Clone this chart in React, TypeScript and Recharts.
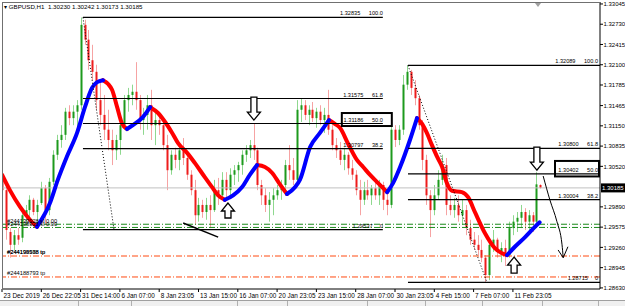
import React from "react";
import {
  ComposedChart,
  Bar,
  Line,
  XAxis,
  YAxis,
  ReferenceLine,
  ReferenceDot,
} from "recharts";

const FONT = "'Liberation Sans', Arial, sans-serif";

// one candle slot per ~4px, slot 0 = 23 Dec 2019
const opens = [
  1.3034, 1.3015, 1.295, 1.293, 1.2945, 1.2941, 1.2976, 1.2984, 1.3, 1.2981,
  1.2995, 1.3018, 1.2984, 1.3028, 1.307, 1.3093, 1.3101, 1.3137, 1.3127, 1.3137,
  1.3147, 1.3272, 1.3249, 1.3217, 1.3199, 1.3155, 1.3132, 1.3109, 1.3093, 1.3077,
  1.3093, 1.3116, 1.3155, 1.3163, 1.3168, 1.3155, 1.3124, 1.3132, 1.3147, 1.3116,
  1.3124, 1.3116, 1.3085, 1.3046, 1.307, 1.3062, 1.3077, 1.3065, 1.3039, 1.3015,
  1.2976, 1.2992, 1.2981, 1.2992, 1.2984, 1.3015, 1.3007, 1.3031, 1.3015, 1.3039,
  1.3046, 1.3054, 1.307, 1.3077, 1.3085, 1.3077, 1.3023, 1.3007, 1.2992, 1.3,
  1.3007, 1.3015, 1.3023, 1.3054, 1.3046, 1.3031, 1.314, 1.3147, 1.3132, 1.314,
  1.3127, 1.3137, 1.3124, 1.3132, 1.3109, 1.3085, 1.3077, 1.3062, 1.307, 1.3049,
  1.3039, 1.3015, 1.3, 1.3015, 1.3007, 1.3018, 1.3007, 1.3023, 1.3, 1.2992,
  1.3109, 1.3093, 1.3109, 1.3179, 1.3199, 1.3174, 1.3158, 1.3116, 1.3062, 1.3007,
  1.2984, 1.3007, 1.3031, 1.3054, 1.2992, 1.2984, 1.2992, 1.2976, 1.2984, 1.2956,
  1.2938, 1.293, 1.2922, 1.291, 1.2883, 1.293, 1.2938, 1.2919, 1.2925, 1.2914,
  1.2956, 1.2966, 1.2972, 1.2981, 1.2966, 1.2976, 1.2966, 1.3023,
];
const highs = [
  1.304, 1.3023, 1.2956, 1.2953, 1.2956, 1.2984, 1.2992, 1.3007, 1.3003, 1.3,
  1.3028, 1.3023, 1.3034, 1.3077, 1.3101, 1.3116, 1.3143, 1.3147, 1.3147, 1.3155,
  1.32835, 1.328, 1.3264, 1.3241, 1.321, 1.3186, 1.3163, 1.314, 1.3109, 1.3101,
  1.3124, 1.3163, 1.3174, 1.3179, 1.3214, 1.3163, 1.3143, 1.3163, 1.3171, 1.314,
  1.3132, 1.3124, 1.3101, 1.3077, 1.3081, 1.3085, 1.3096, 1.307, 1.3046, 1.3031,
  1.3003, 1.3, 1.3003, 1.3007, 1.3031, 1.3034, 1.3043, 1.3043, 1.3049, 1.3054,
  1.3059, 1.3077, 1.3085, 1.3093, 1.3119, 1.3081, 1.3031, 1.3018, 1.3012, 1.3018,
  1.3023, 1.3031, 1.3062, 1.3085, 1.3065, 1.3155, 1.3158, 1.3155, 1.3147, 1.3152,
  1.3143, 1.3147, 1.3143, 1.3171, 1.3116, 1.3096, 1.309, 1.3081, 1.3074, 1.3062,
  1.3046, 1.3031, 1.3028, 1.3031, 1.3023, 1.3028, 1.3031, 1.3028, 1.3015, 1.3116,
  1.3116, 1.3116, 1.3194, 1.32089, 1.3202, 1.3186, 1.3163, 1.3124, 1.307, 1.3015,
  1.3023, 1.3046, 1.307, 1.3065, 1.3007, 1.3003, 1.3007, 1.3, 1.2992, 1.2969,
  1.295, 1.2945, 1.2938, 1.2914, 1.2938, 1.2953, 1.2941, 1.2934, 1.2938, 1.2966,
  1.2976, 1.2981, 1.2992, 1.2987, 1.2984, 1.2981, 1.3043, 1.30242,
];
const lows = [
  1.3007, 1.2938, 1.291, 1.2922, 1.293, 1.2934, 1.2961, 1.2972, 1.2976, 1.2961,
  1.2992, 1.2961, 1.2976, 1.3023, 1.3062, 1.3081, 1.3093, 1.3116, 1.3116, 1.3112,
  1.314, 1.3241, 1.3202, 1.3186, 1.314, 1.3116, 1.3093, 1.3077, 1.3054, 1.3062,
  1.307, 1.3109, 1.3137, 1.3147, 1.314, 1.3109, 1.3101, 1.3109, 1.3093, 1.3085,
  1.3101, 1.3077, 1.3015, 1.3039, 1.3049, 1.3046, 1.3054, 1.3031, 1.3007, 1.2961,
  1.2966, 1.2972, 1.2969, 1.2956, 1.2981, 1.2992, 1.3, 1.3003, 1.3007, 1.3023,
  1.3028, 1.3039, 1.3059, 1.3065, 1.3062, 1.3015, 1.2992, 1.2981, 1.2966, 1.2976,
  1.3, 1.3, 1.3007, 1.3031, 1.3023, 1.3023, 1.3121, 1.3124, 1.3116, 1.3121,
  1.3112, 1.3116, 1.3104, 1.3101, 1.3077, 1.3065, 1.3054, 1.3046, 1.3039, 1.3031,
  1.3007, 1.2976, 1.2992, 1.3, 1.2992, 1.3, 1.2992, 1.2984, 1.2976, 1.2987,
  1.3082, 1.3085, 1.3101, 1.3171, 1.3163, 1.3147, 1.3109, 1.3046, 1.2992, 1.2942,
  1.2976, 1.3, 1.3023, 1.2976, 1.2976, 1.2972, 1.2966, 1.2961, 1.2945, 1.293,
  1.2922, 1.2914, 1.2903, 1.28715, 1.2875, 1.2919, 1.291, 1.2903, 1.2897, 1.291,
  1.2945, 1.295, 1.2956, 1.2953, 1.295, 1.295, 1.2961, 1.30173,
];
const closes = [
  1.3015, 1.2953, 1.293, 1.2945, 1.2938, 1.2976, 1.2984, 1.3, 1.2981, 1.2992,
  1.3018, 1.2984, 1.3028, 1.307, 1.3093, 1.3101, 1.3137, 1.3127, 1.3137, 1.3147,
  1.3272, 1.3249, 1.3217, 1.3199, 1.3155, 1.3132, 1.3109, 1.3093, 1.3077, 1.3093,
  1.3116, 1.3155, 1.3163, 1.3168, 1.3155, 1.3124, 1.3132, 1.3147, 1.3116, 1.3124,
  1.3116, 1.3085, 1.3046, 1.307, 1.3062, 1.3077, 1.3065, 1.3039, 1.3015, 1.2976,
  1.2992, 1.2981, 1.2992, 1.2984, 1.3015, 1.3007, 1.3031, 1.3015, 1.3039, 1.3046,
  1.3054, 1.307, 1.3077, 1.3085, 1.3077, 1.3023, 1.3007, 1.2992, 1.3, 1.3007,
  1.3015, 1.3023, 1.3054, 1.3046, 1.3031, 1.314, 1.3147, 1.3132, 1.314, 1.3127,
  1.3137, 1.3124, 1.3132, 1.3109, 1.3085, 1.3077, 1.3062, 1.307, 1.3049, 1.3039,
  1.3015, 1.3, 1.3015, 1.3007, 1.3018, 1.3007, 1.3023, 1.3, 1.2992, 1.3109,
  1.3093, 1.3109, 1.3179, 1.3199, 1.3174, 1.3158, 1.3116, 1.3062, 1.3007, 1.2984,
  1.3007, 1.3031, 1.3054, 1.2992, 1.2984, 1.2992, 1.2976, 1.2984, 1.2956, 1.2938,
  1.293, 1.2922, 1.291, 1.2883, 1.293, 1.2938, 1.2919, 1.2925, 1.2914, 1.2956,
  1.2966, 1.2972, 1.2981, 1.2966, 1.2976, 1.2966, 1.3024, 1.30185,
];

const tickSlots = [0, 10, 20, 30, 40, 50, 60, 70, 80, 90, 100, 110, 120, 130];
const tickLabels = [
  "23 Dec 2019", "26 Dec 22:05", "31 Dec 14:00", "6 Jan 07:00", "8 Jan 23:05",
  "13 Jan 15:00", "16 Jan 07:00", "20 Jan 23:05", "23 Jan 15:00", "28 Jan 07:00",
  "30 Jan 23:05", "4 Feb 15:00", "7 Feb 07:00", "11 Feb 23:05",
];
const priceTicks = [
  1.33045, 1.3273, 1.32415, 1.321, 1.31785, 1.31465, 1.3115, 1.30835, 1.3052,
  1.2989, 1.29575, 1.2926, 1.28945, 1.2863,
];
const lastPrice = 1.30185;
const X_MAX = 152.16;

// moving average, red while falling / blue while rising
const maSlots = [
  0, 2, 4.6, 7.1, 8.9, 12.2, 14.2, 16.5, 19.1, 21.1, 22.9, 24.2, 25.7, 27, 28,
  29.3, 30.5, 31.8, 33.3, 35.9, 37.7, 39.7, 41.5, 43.3, 44.8, 47.1, 49.1, 51.4,
  53.4, 55, 56.7, 58.8, 61.1, 63.1, 64.9, 66.9, 68.7, 70.5, 72.5, 74.6, 75.8,
  78.4, 80.9, 83.2, 84.7, 86, 88, 90.3, 91.9, 93.6, 95.7, 98, 99.5, 101.3, 103.8,
  105.6, 106.9, 108.1, 109.4, 110.7, 112, 113.2, 114.5, 117, 118.6, 120.4, 122.9,
  125.4, 127.2, 128.5, 130.5, 133.1, 135.6, 136.8,
];
const maValues = [
  1.3039, 1.3015, 1.2989, 1.2969, 1.2958, 1.2995, 1.3031, 1.3067, 1.3104, 1.3144,
  1.3174, 1.3183, 1.3186, 1.318, 1.3171, 1.3144, 1.3119, 1.311, 1.3116, 1.3129,
  1.3144, 1.3135, 1.3121, 1.3104, 1.3088, 1.3073, 1.3057, 1.3037, 1.302, 1.3007,
  1.3, 1.3007, 1.302, 1.3039, 1.3054, 1.3051, 1.3042, 1.3026, 1.3009, 1.302,
  1.3031, 1.3082, 1.3104, 1.3124, 1.3118, 1.3112, 1.3088, 1.3062, 1.3051, 1.3039,
  1.3026, 1.3012, 1.3026, 1.3051, 1.3093, 1.3127, 1.3118, 1.3104, 1.3085, 1.3067,
  1.3051, 1.3026, 1.3014, 1.3012, 1.3004, 1.298, 1.2948, 1.2925, 1.2917, 1.2914,
  1.2927, 1.2942, 1.2958, 1.2965,
];

// fibonacci retracements
const fibALevels = [1.32835, 1.31575, 1.31186, 1.30797, 1.29537];
const fibBLevels = [1.32089, 1.308, 1.30402, 1.30004, 1.28715];
const fibNames = ["100.0", "61.8", "50.0", "38.2", "0"];

// order lines
const slLevels = [1.2962, 1.2957];
const slIds = ["#244139928", "#244138928"];
const tpLevels = [1.29126, 1.288];
const tpIds = ["#244199938", "#244188793"];

// hand drawn forecast arrow
const forecastSlots = [137.7, 139.4, 141.2, 142.5, 142.8];
const forecastPrices = [1.3037, 1.3, 1.2966, 1.293, 1.291];

const candles = opens.map((o, i) => ({
  x: i,
  open: o,
  high: highs[i],
  low: lows[i],
  close: closes[i],
}));

const maRising = maValues.map((v, k) =>
  k < maValues.length - 1 ? maValues[k + 1] >= v : maValues[k] >= maValues[k - 1]
);
const maUp = maSlots.map((x, k) => ({
  x,
  v: maRising[k] || (k > 0 && maRising[k - 1]) ? maValues[k] : null,
}));
const maDown = maSlots.map((x, k) => ({
  x,
  v: !maRising[k] || (k > 0 && !maRising[k - 1]) ? maValues[k] : null,
}));
const forecast = forecastSlots.map((x, k) => ({ x, v: forecastPrices[k] }));

function Candle(props: any) {
  const { x, y, width, height, payload } = props;
  if (x == null || y == null) return null;
  const top = Math.min(y, y + height);
  const h = Math.abs(height);
  const k = payload.high === payload.low ? 0 : h / (payload.high - payload.low);
  const yO = top + (payload.high - payload.open) * k;
  const yC = top + (payload.high - payload.close) * k;
  const up = payload.close >= payload.open;
  const cx = Math.round(x + width / 2) + 0.5;
  return (
    <g>
      <line x1={cx} x2={cx} y1={top} y2={top + h} stroke={up ? "#8fd88f" : "#f6a3a3"} strokeWidth={1} />
      <rect
        x={cx - 1}
        y={Math.min(yO, yC)}
        width={2}
        height={Math.max(1, Math.abs(yC - yO))}
        fill={up ? "#1d9a1d" : "#ee1c1c"}
      />
    </g>
  );
}

function XTick({ x, y, payload }: any) {
  const label = tickLabels[tickSlots.indexOf(payload.value)] ?? "";
  return (
    <text x={x + 1.5} y={y + 4} fontSize={6.4} fontFamily={FONT} fill="#000">
      {label}
    </text>
  );
}

function YTick({ x, y, payload }: any) {
  return (
    <text x={x - 1.5} y={y + 2.2} fontSize={6} fontFamily={FONT} fill="#000">
      {Number(payload.value).toFixed(5)}
    </text>
  );
}

const fibLabel = (price: number, name: string, boxed: number, endPad: number) => (p: any) => {
  const { cx, cy } = p;
  const ex = cx - endPad;
  const nameW = name.length * 3.1;
  return (
    <g fontFamily={FONT} fontSize={5.6} fill="#000">
      {boxed === 1 && (
        <rect x={cx - 41} y={cy - 10.5} width={50} height={13} fill="none" stroke="#000" strokeWidth={2} />
      )}
      {boxed === 2 && (
        <rect x={cx - 45} y={cy - 13} width={44} height={15.5} fill="none" stroke="#000" strokeWidth={2} />
      )}
      <text x={ex} y={cy - 2} textAnchor="end">{name}</text>
      <text x={ex - nameW - 7} y={cy - 2} textAnchor="end">{price.toFixed(5)}</text>
    </g>
  );
};

const orderLabel = (text: string, dy: number) => (p: any) => (
  <text x={p.cx} y={p.cy + dy} fontFamily={FONT} fontSize={5.7} fill="#000">
    {text}
  </text>
);

const blockArrow = (dir: number, len: number) => (p: any) => {
  const { cx, cy } = p;
  const s = dir; // 1 = pointing down (tip at cy), -1 = pointing up
  const pts = [
    [0, 0], [-6.5, -8 * s], [-3, -8 * s], [-3, -len * s],
    [3, -len * s], [3, -8 * s], [6.5, -8 * s],
  ]
    .map(([a, b]) => `${cx + a},${cy + b}`)
    .join(" ");
  return <polygon points={pts} fill="#fff" stroke="#000" strokeWidth={1.3} />;
};

const priceTag = (p: any) => (
  <g>
    <rect x={p.cx + 1} y={p.cy - 4.5} width={24} height={9} fill="#000" />
    <text x={p.cx + 2} y={p.cy + 2.2} fontSize={6} fontFamily={FONT} fill="#fff">
      {lastPrice.toFixed(5)}
    </text>
  </g>
);

export default function App() {
  return (
    <div style={{ position: "absolute", left: 0, top: 0, width: 625, height: 306, background: "#fff", fontFamily: FONT, overflow: "hidden" }}>
      <ComposedChart
        width={625}
        height={306}
        data={candles}
        margin={{ top: 3, right: 0, bottom: 0, left: 2 }}
      >
        <XAxis
          dataKey="x"
          type="number"
          domain={[0, X_MAX]}
          allowDataOverflow
          ticks={tickSlots}
          tick={<XTick />}
          tickSize={3}
          tickLine={{ stroke: "#000" }}
          axisLine={{ stroke: "#000" }}
          height={17}
          interval={0}
        />
        <YAxis
          type="number"
          orientation="right"
          domain={[1.28613, 1.3306]}
          allowDataOverflow
          ticks={priceTicks}
          tick={<YTick />}
          tickSize={3}
          tickLine={{ stroke: "#000" }}
          axisLine={{ stroke: "#000" }}
          width={25}
          interval={0}
        />

        <ReferenceLine y={lastPrice} stroke="#c0c0c0" strokeWidth={1} />
        {slLevels.map((lv) => (
          <ReferenceLine key={"sl" + lv} y={lv} stroke="#1a8a1a" strokeWidth={1} strokeDasharray="6 2 1 2" />
        ))}
        {tpLevels.map((lv) => (
          <ReferenceLine key={"tp" + lv} y={lv} stroke="#ff4a10" strokeWidth={1} strokeDasharray="6 2 1 2" />
        ))}

        <Bar dataKey={(d: any) => [d.low, d.high]} barSize={3} shape={<Candle />} isAnimationActive={false} />

        <Line data={maDown} dataKey="v" type="monotone" stroke="#ff0000" strokeWidth={4} dot={false} connectNulls={false} isAnimationActive={false} strokeLinecap="round" />
        <Line data={maUp} dataKey="v" type="monotone" stroke="#0000ff" strokeWidth={4} dot={false} connectNulls={false} isAnimationActive={false} strokeLinecap="round" />
        <Line data={forecast} dataKey="v" type="monotone" stroke="#000" strokeWidth={1} dot={false} isAnimationActive={false} />

        {fibALevels.map((lv) => (
          <ReferenceLine key={"fa" + lv} segment={[{ x: 20.6, y: lv }, { x: 96.9, y: lv }]} stroke="#000" strokeWidth={1.2} />
        ))}
        {fibBLevels.map((lv) => (
          <ReferenceLine key={"fb" + lv} segment={[{ x: 103.3, y: lv }, { x: X_MAX, y: lv }]} stroke="#000" strokeWidth={1.2} />
        ))}
        <ReferenceLine segment={[{ x: 20.6, y: fibALevels[0] }, { x: 28.5, y: fibALevels[4] }]} stroke="#000" strokeDasharray="1 2" />
        <ReferenceLine segment={[{ x: 103.3, y: fibBLevels[0] }, { x: 123.4, y: fibBLevels[4] }]} stroke="#000" strokeDasharray="1 2" />
        <ReferenceLine segment={[{ x: 46.1, y: 1.2964 }, { x: 55, y: 1.2942 }]} stroke="#000" strokeWidth={1.5} />
        <ReferenceLine segment={[{ x: 119.3, y: 1.2889 }, { x: 124.2, y: 1.2861 }]} stroke="#000" strokeWidth={1.5} />
        <ReferenceLine segment={[{ x: 141.5, y: 1.2922 }, { x: 142.8, y: 1.291 }]} stroke="#000" strokeWidth={1} />
        <ReferenceLine segment={[{ x: 144, y: 1.2927 }, { x: 142.8, y: 1.291 }]} stroke="#000" strokeWidth={1} />

        {fibALevels.map((lv, k) => (
          <ReferenceDot key={"fal" + lv} x={96.9} y={lv} r={0} ifOverflow="visible" shape={fibLabel(lv, fibNames[k], k === 2 ? 1 : 0, 0)} />
        ))}
        {fibBLevels.map((lv, k) => (
          <ReferenceDot key={"fbl" + lv} x={X_MAX} y={lv} r={0} ifOverflow="visible" shape={fibLabel(lv, fibNames[k], k === 2 ? 2 : 0, 2)} />
        ))}

        {slLevels.map((lv, k) => (
          <ReferenceDot key={"sll" + lv} x={1.3} y={lv} r={0} ifOverflow="visible" shape={orderLabel(slIds[k] + " sl 0.00", -1)} />
        ))}
        <ReferenceDot x={1.3} y={tpLevels[0]} r={0} ifOverflow="visible" shape={orderLabel("#244198588 tp", -2)} />
        {tpLevels.map((lv, k) => (
          <ReferenceDot key={"tpl" + lv} x={1.3} y={lv} r={0} ifOverflow="visible" shape={orderLabel(tpIds[k] + " tp", -2)} />
        ))}

        <ReferenceDot x={64.1} y={1.3124} r={0} ifOverflow="visible" shape={blockArrow(1, 23)} />
        <ReferenceDot x={57.5} y={1.2995} r={0} ifOverflow="visible" shape={blockArrow(-1, 15)} />
        <ReferenceDot x={136.1} y={1.3046} r={0} ifOverflow="visible" shape={blockArrow(1, 23)} />
        <ReferenceDot x={130.3} y={1.2911} r={0} ifOverflow="visible" shape={blockArrow(-1, 16)} />

        <ReferenceDot x={X_MAX} y={lastPrice} r={0} ifOverflow="visible" shape={priceTag} />
      </ComposedChart>

      {/* window frame */}
      <div style={{ position: "absolute", left: 2, top: 2, width: 598, height: 287, borderLeft: "1px solid #707070", borderTop: "1px solid #707070", pointerEvents: "none" }} />
      <div style={{ position: "absolute", left: 4, top: 3, fontSize: 6.2, lineHeight: "8px", color: "#000", whiteSpace: "pre" }}>
        {"\u25BE GBPUSD,H1  1.30230 1.30242 1.30173 1.30185"}
      </div>
      <div style={{ position: "absolute", left: 535, top: 3, width: 0, height: 0, borderLeft: "3px solid transparent", borderRight: "3px solid transparent", borderTop: "4px solid #a0a0a0" }} />
      <div style={{ position: "absolute", left: 0, top: 300, width: 625, height: 6, background: "#f0f0f0", borderTop: "1px solid #a0a0a0" }}>
        {[78, 131, 237, 287, 367, 425, 482, 542, 598].map((sx) => (
          <div key={sx} style={{ position: "absolute", left: sx, top: 0, width: 1, height: 6, background: "#b0b0b0" }} />
        ))}
      </div>
    </div>
  );
}
